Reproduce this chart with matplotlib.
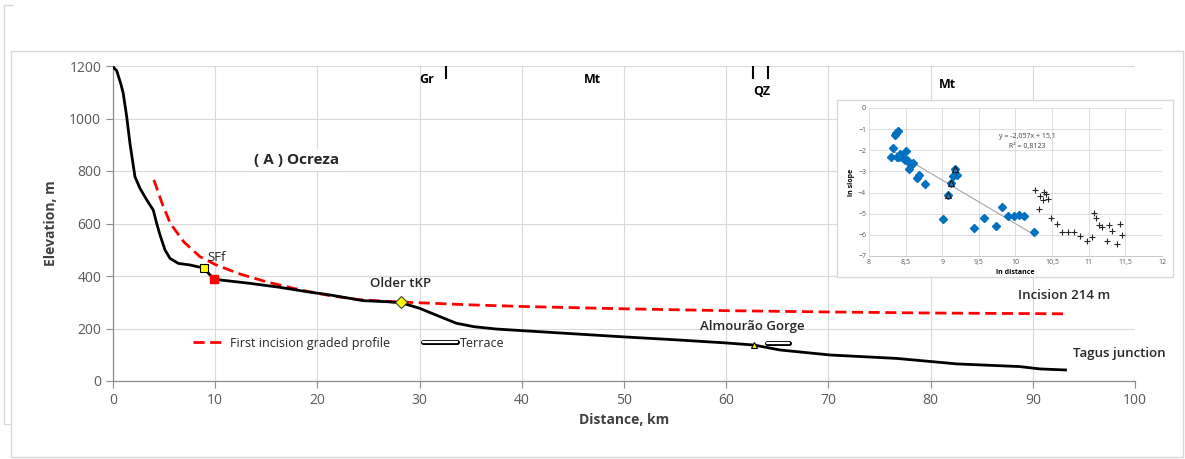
import numpy as np
import matplotlib
matplotlib.use("Agg")
from matplotlib import pyplot as plt
from matplotlib.patches import Rectangle
from matplotlib.lines import Line2D
import matplotlib.patheffects as pe

plt.rcParams['font.family'] = ['Open Sans', 'DejaVu Sans']

# longitudinal profile of the Ocreza river
dist_km = [0, 0.36, 0.75, 1.0, 1.34, 1.66, 2.15, 2.64, 3.3, 3.94, 4.27, 4.6, 5.09,
           5.58, 6.39, 7.53, 8.9, 9.49, 9.9, 10.47, 13.4, 16.3, 19.0, 21.2, 24.5,
           26.8, 28.2, 30.0, 32.0, 33.6, 35.3, 37.5, 40.8, 45, 50, 55, 60, 62.7,
           65.3, 70.2, 76.7, 82.6, 88.7, 90.7, 93.2]
elev_m = [1197, 1182, 1134, 1096, 1007, 905, 778, 734, 690, 651, 601, 556, 499,
          467, 448, 442, 430, 404, 390, 385, 372, 357, 340, 328, 306, 302, 298,
          277, 245, 220, 207, 198, 190, 180, 168, 157, 145, 137, 118, 99, 86, 65,
          55, 46, 42]

# first incision graded profile
graded_km = [4.0, 4.8, 5.6, 6.9, 8.5, 10.1, 12.4, 15.0, 18.3, 21.0, 24.0, 27.0,
             30.0, 35.0, 40.0, 50.0, 60.0, 70.0, 80.0, 93.0]
graded_m = [766, 677, 601, 531, 474, 442, 408, 378, 347, 327, 310, 303, 298, 290,
            284, 275, 268, 263, 259, 256]

# point features along the profile
sff = (8.9, 430)
knick_red = (9.85, 390)
older_tkp = (28.2, 300)
almourao = (62.7, 138)
terrace_km = [64.0, 66.1]
terrace_m = [143, 143]

# lithology boundaries and labels along the top
litho_ticks = [32.6, 62.6, 64.1]
litho_labels = ["Gr", "Mt", "QZ", "Mt"]
litho_x = [30.7, 46.9, 63.5, 81.6]
litho_y = [1150, 1147, 1101, 1131]

# ln distance / ln slope
blue_x = [8.305, 8.33, 8.35, 8.365, 8.39, 8.38, 8.41, 8.43, 8.465, 8.50, 8.49,
          8.52, 8.55, 8.57, 8.60, 8.65, 8.68, 8.76, 9.01, 9.085, 9.12, 9.15, 9.17,
          9.195, 9.44, 9.57, 9.74, 9.81, 9.90, 9.98, 10.05, 10.12, 10.25]
blue_y = [-2.32, -1.88, -1.26, -1.17, -1.07, -2.32, -2.32, -2.16, -2.37, -2.03,
          -2.48, -2.44, -2.90, -2.71, -2.60, -3.31, -3.15, -3.61, -5.27, -4.13,
          -3.55, -3.22, -2.87, -3.19, -5.68, -5.21, -5.60, -4.70, -5.11, -5.11,
          -5.08, -5.11, -5.88]
tri_x = [9.085, 9.12, 9.17]
tri_y = [-4.13, -3.55, -2.87]
plus_x = [10.27, 10.33, 10.32, 10.37, 10.39, 10.41, 10.44, 10.49, 10.56, 10.64,
          10.72, 10.80, 10.88, 10.97, 11.05, 11.07, 11.10, 11.14, 11.18, 11.25,
          11.28, 11.32, 11.39, 11.42, 11.45]
plus_y = [-3.86, -4.18, -4.78, -4.37, -3.99, -4.07, -4.31, -5.19, -5.50, -5.87,
          -5.87, -5.87, -6.07, -6.31, -6.10, -4.97, -5.19, -5.54, -5.62, -6.31,
          -5.54, -5.84, -6.44, -5.50, -6.01]
fit_slope = -2.057
fit_icpt = 15.1
fit_range = [8.3, 10.25]

TICK = '#595959'
GRID = '#d9d9d9'

fig = plt.figure(figsize=(11.85, 4.59), dpi=100)

# panel borders
fig.add_artist(Line2D([12/1185, 4/1185, 4/1185, 11/1185],
                      [1-5/459, 1-5/459, 1-424/459, 1-424/459],
                      color=GRID, lw=1.0, zorder=-3))
fig.add_artist(Rectangle((11/1185, 1-457/459), 1172/1185, 406/459,
                         facecolor='white', edgecolor=GRID, lw=1.0, zorder=-2))

ax = fig.add_axes([113/1185, 1-381/459, 1022/1185, 315/459])
ax.set_facecolor('none')
ax.set_xlim(0, 100)
ax.set_ylim(0, 1200)
ax.set_xticks(np.arange(0, 101, 10))
ax.set_yticks(np.arange(0, 1201, 200))
ax.grid(True, color=GRID, lw=0.8)
ax.set_axisbelow(True)
for s in ['top', 'right']:
    ax.spines[s].set_visible(False)
for s in ['left', 'bottom']:
    ax.spines[s].set_color('#8c8c8c')
    ax.spines[s].set_linewidth(0.9)
ax.tick_params(direction='out', length=5, color='#8c8c8c', labelcolor=TICK,
               labelsize=10)
ax.set_xlabel("Distance, km", fontsize=10, fontweight='bold', color='#404040',
              labelpad=4)
ax.set_ylabel("Elevation, m", fontsize=10, fontweight='bold', color='#404040',
              labelpad=8)

ax.plot(graded_km, graded_m, color='#ff0000', lw=2, ls=(0, (4, 2)), zorder=3,
        label="First incision graded profile")
ax.plot(dist_km, elev_m, color='black', lw=2, zorder=4)

terr, = ax.plot(terrace_km, terrace_m, color='white', lw=1.6,
                solid_capstyle='round', zorder=5, label="Terrace",
                path_effects=[pe.Stroke(linewidth=3.6, foreground='black',
                                        capstyle='round'), pe.Normal()])

ax.plot(*sff, marker='s', ms=6, mfc='#ffff00', mec='black', mew=0.8, zorder=6)
ax.plot(*knick_red, marker='s', ms=6, mfc='#ff0000', mec='#ff0000', zorder=6)
ax.plot(*older_tkp, marker='D', ms=6, mfc='#ffff00', mec='#404040', mew=0.8,
        zorder=6)
ax.plot(*almourao, marker='^', ms=5, mfc='#ffff00', mec='black', mew=0.8,
        zorder=6)

for x in litho_ticks:
    ax.plot([x, x], [1200, 1155], color='black', lw=1.5, zorder=5)
for lab, x, y in zip(litho_labels, litho_x, litho_y):
    ax.text(x, y, lab, ha='center', va='center', fontsize=9, fontweight='bold')

ax.text(13.8, 842, "( A ) Ocreza", ha='left', va='center', fontsize=11,
        fontweight='bold', color='#262626',
        bbox=dict(facecolor='white', edgecolor='none', pad=3))
ax.text(9.2, 469, "SFf", ha='left', va='center', fontsize=9.5, color='#262626')
ax.text(25.1, 373, "Older tKP", ha='left', va='center', fontsize=9.5,
        fontweight='semibold', color='#262626')
ax.text(57.4, 206, "Almourão Gorge", ha='left', va='center', fontsize=9.5,
        fontweight='semibold', color='#262626')
ax.text(88.55, 324, "Incision 214 m", ha='left', va='center', fontsize=9.5,
        fontweight='semibold', color='#262626')
ax.text(93.9, 103, "Tagus junction", ha='left', va='center', fontsize=9.5,
        fontweight='semibold', color='#262626')

leg = ax.legend(loc='center left', bbox_to_anchor=(0.078, 0.12), ncol=2,
                frameon=False, fontsize=9, handlelength=2.7, handletextpad=0.3,
                columnspacing=2.6, borderpad=0, borderaxespad=0)
for t in leg.get_texts():
    t.set_color('#262626')

# inset: slope vs distance
fig.add_artist(Rectangle((837/1185, 1-277/459), 336/1185, 177/459,
                         facecolor='white', edgecolor=GRID, lw=1.0, zorder=1))
ins = fig.add_axes([869/1185, 1-256/459, 293/1185, 148/459], zorder=2)
ins.set_xlim(8, 12)
ins.set_ylim(-7, 0)
ins.set_xticks(np.arange(8, 12.01, 0.5))
ins.set_xticklabels(['8', '8,5', '9', '9,5', '10', '10,5', '11', '11,5', '12'])
ins.set_yticks(np.arange(-7, 0.1, 1))
ins.grid(True, color=GRID, lw=0.6)
ins.set_axisbelow(True)
for s in ['top', 'right', 'left']:
    ins.spines[s].set_visible(False)
ins.spines['bottom'].set_color('#bfbfbf')
ins.spines['bottom'].set_linewidth(0.6)
ins.tick_params(length=0, labelsize=5, labelcolor=TICK, pad=2)
ins.set_xlabel("ln distance", fontsize=5, fontweight='bold', labelpad=2)
ins.set_ylabel("ln slope", fontsize=5, fontweight='bold', labelpad=2)

fx = np.array(fit_range)
ins.plot(fx, fit_slope * fx + fit_icpt, color='#a6a6a6', lw=0.8, zorder=2)
ins.plot(blue_x, blue_y, ls='none', marker='D', ms=4, mfc='#0070c0',
         mec='#0070c0', zorder=3)
ins.plot(tri_x, tri_y, ls='none', marker='^', ms=4.5, mfc='#2e75b6',
         mec='#1a1a1a', mew=0.8, zorder=4)
ins.plot(plus_x, plus_y, ls='none', marker='+', ms=5, color='#262626', mew=0.8,
         zorder=3)
ins.text(10.16, -1.37, "y = -2,057x + 15,1", ha='center', va='center',
         fontsize=5, color='#404040')
ins.text(10.16, -1.8, "R² = 0,8123", ha='center', va='center', fontsize=5,
         color='#404040')

fig.savefig("out.png", dpi=100)
